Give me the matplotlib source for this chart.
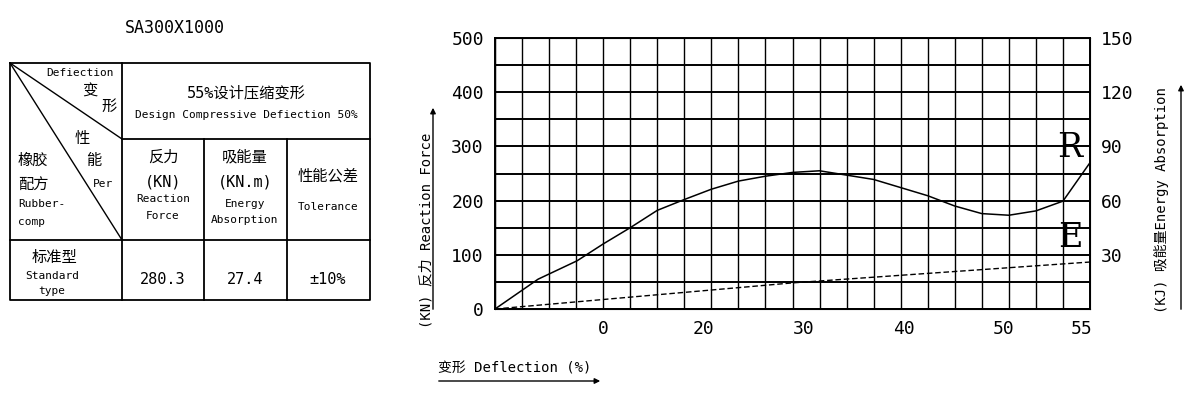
import matplotlib
matplotlib.use("Agg")
import matplotlib.pyplot as plt
import numpy as np

plt.rcParams['font.family'] = ['DejaVu Sans Mono', 'Noto Sans CJK SC']

# data
deflection_r = [-0.8, 3.5, 7.4, 10.0, 12.7, 15.4, 18.1, 20.8, 23.5, 26.2, 28.9, 31.6,
                34.3, 37.0, 39.7, 42.4, 45.1, 47.8, 50.5, 53.2, 55.9, 58.6]
reaction = [0, 55, 89, 120, 150, 182, 202, 221, 236, 245, 252, 255,
            247, 239, 224, 209, 190, 176, 173, 181, 199, 270]
deflection_e = [-0.8, 29.0, 58.6]
energy = [0, 14.5, 26]
xtick_pos = [10, 20, 30, 40, 50, 57.8]
xtick_labels = ["0", "20", "30", "40", "50", "55"]
left_ticks = [0, 100, 200, 300, 400, 500]
right_ticks = [30, 60, 90, 120, 150]

fig = plt.figure(figsize=(12, 4), dpi=100)

ov = fig.add_axes([0, 0, 1, 1])
ov.set_xlim(0, 1200); ov.set_ylim(400, 0); ov.axis('off')

# table
L, R, T, B = 10, 370, 63, 300
cols = [10, 122, 204, 287, 370]
r1, r2 = 139, 240
lw = 1.3
ov.plot([L, R, R, L, L], [T, T, B, B, T], color='k', lw=lw)
ov.plot([122, 122], [T, B], color='k', lw=lw)
ov.plot([122, R], [r1, r1], color='k', lw=lw)
ov.plot([L, R], [r2, r2], color='k', lw=lw)
for c in cols[2:4]:
    ov.plot([c, c], [r1, B], color='k', lw=lw)
ov.plot([L, 122], [T, r1], color='k', lw=1)
ov.plot([L, 122], [T, r2], color='k', lw=1)

ov.text(175, 28, "SA300X1000", fontsize=12, ha='center', va='center')
ov.text(114, 73, "Defiection", fontsize=8, ha='right', va='center')
ov.text(90, 91, "变", fontsize=11, ha='center', va='center')
ov.text(109, 106, "形", fontsize=11, ha='center', va='center')
ov.text(82, 138, "性", fontsize=11, ha='center', va='center')
ov.text(94, 160, "能", fontsize=11, ha='center', va='center')
ov.text(113, 184, "Per", fontsize=8, ha='right', va='center')
ov.text(18, 160, "橡胶", fontsize=11, ha='left', va='center')
ov.text(18, 185, "配方", fontsize=11, ha='left', va='center')
ov.text(18, 204, "Rubber-", fontsize=8, ha='left', va='center')
ov.text(18, 222, "comp", fontsize=8, ha='left', va='center')
ov.text(246, 93, "55%设计压缩变形", fontsize=11, ha='center', va='center')
ov.text(246, 115, "Design Compressive Defiection 50%", fontsize=8, ha='center', va='center')
ov.text(163, 157, "反力", fontsize=11, ha='center', va='center')
ov.text(163, 182, "(KN)", fontsize=11, ha='center', va='center')
ov.text(163, 199, "Reaction", fontsize=8, ha='center', va='center')
ov.text(163, 216, "Force", fontsize=8, ha='center', va='center')
ov.text(245, 157, "吸能量", fontsize=11, ha='center', va='center')
ov.text(245, 182, "(KN.m)", fontsize=11, ha='center', va='center')
ov.text(245, 204, "Energy", fontsize=8, ha='center', va='center')
ov.text(245, 220, "Absorption", fontsize=8, ha='center', va='center')
ov.text(328, 176, "性能公差", fontsize=11, ha='center', va='center')
ov.text(328, 207, "Tolerance", fontsize=8, ha='center', va='center')
ov.text(55, 257, "标准型", fontsize=11, ha='center', va='center')
ov.text(52, 276, "Standard", fontsize=8, ha='center', va='center')
ov.text(52, 291, "type", fontsize=8, ha='center', va='center')
ov.text(163, 279, "280.3", fontsize=11, ha='center', va='center')
ov.text(245, 279, "27.4", fontsize=11, ha='center', va='center')
ov.text(328, 279, "±10%", fontsize=11, ha='center', va='center')

ov.text(426, 230, "(KN) 反力 Reaction Force", rotation=90, fontsize=10, ha='center', va='center')
ov.annotate("", xy=(433, 105), xytext=(433, 312),
            arrowprops=dict(arrowstyle='-|>', color='k', lw=1, mutation_scale=8))
ov.text(1161, 200, "(KJ) 吸能量Energy Absorption", rotation=90, fontsize=10, ha='center', va='center')
ov.annotate("", xy=(1181, 82), xytext=(1181, 312),
            arrowprops=dict(arrowstyle='-|>', color='k', lw=1, mutation_scale=8))
ov.text(438, 368, "变形 Deflection (%)", fontsize=10, ha='left', va='center')
ov.annotate("", xy=(603, 381), xytext=(436, 381),
            arrowprops=dict(arrowstyle='-|>', color='k', lw=1, mutation_scale=8))

# chart
ax = fig.add_axes([495/1200, 1-309/400, 595/1200, 271/400])
x0, x1 = -0.8, 58.6
ax.set_xlim(x0, x1); ax.set_ylim(0, 500)
for xv in np.linspace(x0, x1, 23):
    ax.axvline(xv, color='k', lw=1)
for yv in range(0, 501, 50):
    ax.axhline(yv, color='k', lw=1.4)
ax.plot(deflection_r, reaction, color='k', lw=1.1)
ax.set_xticks(xtick_pos); ax.set_xticklabels(xtick_labels)
ax.set_yticks(left_ticks)
ax.tick_params(length=0, labelsize=13, pad=8)
for s in ax.spines.values():
    s.set_linewidth(1.4)
ax2 = ax.twinx()
ax2.set_ylim(0, 150)
ax2.plot(deflection_e, energy, color='k', lw=1, ls=(0, (4, 2)))
ax2.set_yticks(right_ticks)
ax2.tick_params(length=0, labelsize=13, pad=8)
ax.text(56.6, 268, "R", fontsize=24, ha='center', va='bottom', family='DejaVu Serif')
ax.text(56.6, 102, "E", fontsize=24, ha='center', va='bottom', family='DejaVu Serif')

fig.savefig("out.png", dpi=100)
